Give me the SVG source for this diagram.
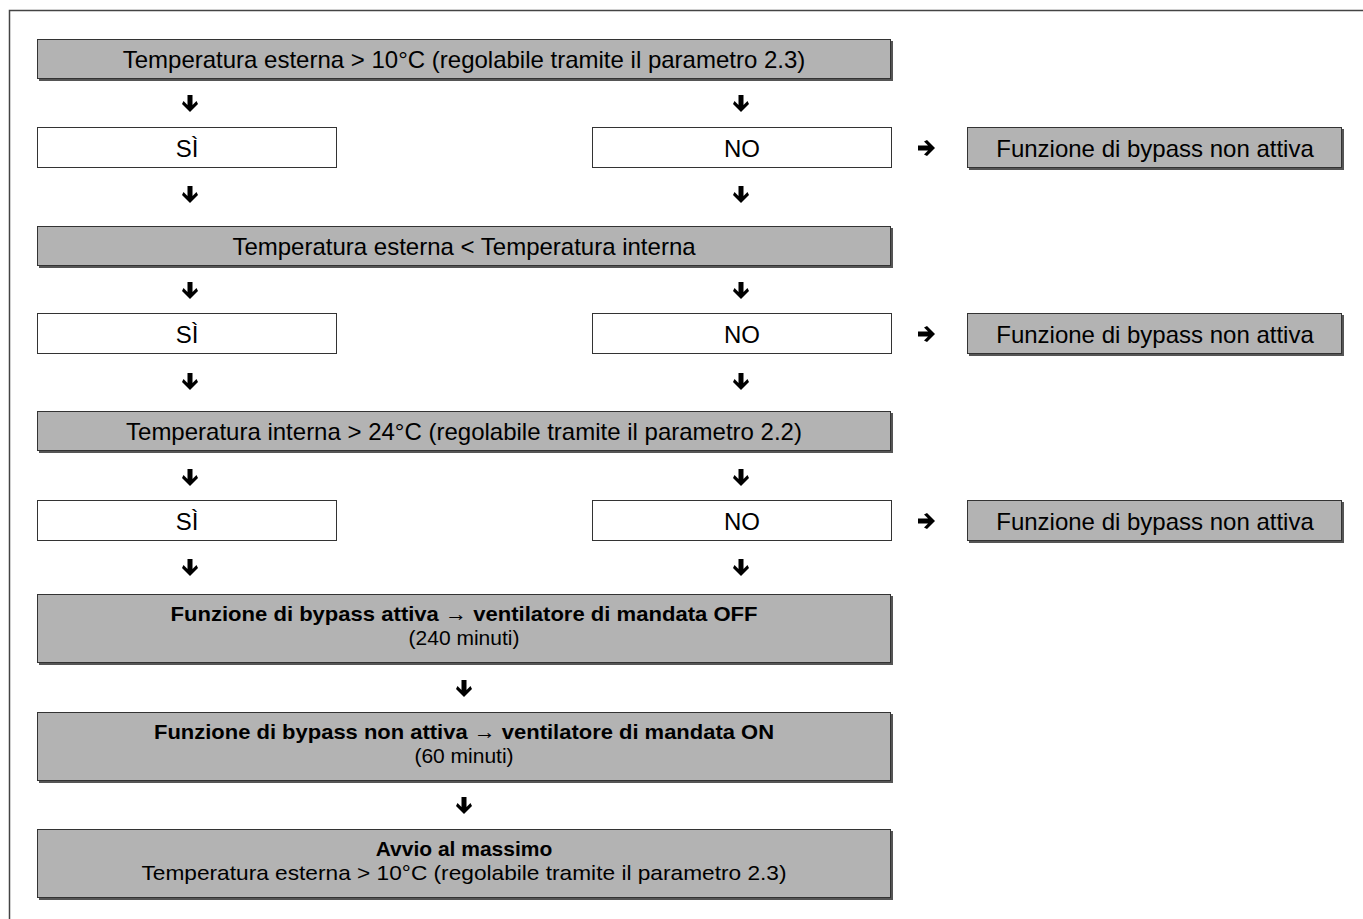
<svg xmlns="http://www.w3.org/2000/svg" width="1363" height="919" viewBox="0 0 1363 919">
<style>
text{font-family:"Liberation Sans",Arial,sans-serif;font-size:24px;fill:#000;text-anchor:middle}
.b{font-weight:bold}
.s{font-size:21px}
.g{fill:#b3b3b3;stroke:#333;stroke-width:1}
.w{fill:#fff;stroke:#333;stroke-width:1}
.sh{fill:#555}
.arr{fill:#000}
</style>
<defs>
<path id="ad" d="M-2.5,-9 H2.5 V1 L6.5,-3 L8,0 L0,8 L-8,0 L-6.5,-3 L-2.5,1 Z"/>
<path id="ar" d="M-9,-2.5 V2.5 H1 L-3,6.5 L0,8 L8,0 L0,-8 L-3,-6.5 L1,-2.5 Z"/>
</defs>
<rect width="1363" height="919" fill="#fff"/>
<path d="M9.5,919 V10.5 H1363" fill="none" stroke="#444" stroke-width="1.5"/>

<g id="n1"><rect class="sh" x="39" y="41" width="854" height="40"/><rect class="g" x="37.5" y="39.5" width="853" height="39"/><text x="464" y="68">Temperatura esterna &gt; 10°C (regolabile tramite il parametro 2.3)</text></g>
<g id="n2"><rect class="w" x="37.5" y="127.5" width="299" height="40"/><text x="187" y="157">SÌ</text></g>
<g id="n3"><rect class="w" x="592.5" y="127.5" width="299" height="40"/><text x="742" y="157">NO</text></g>
<g id="n4"><rect class="sh" x="969" y="129" width="375" height="41"/><rect class="g" x="967.5" y="127.5" width="374" height="40"/><text x="1155" y="157">Funzione di bypass non attiva</text></g>

<g id="n5"><rect class="sh" x="39" y="228" width="854" height="40"/><rect class="g" x="37.5" y="226.5" width="853" height="39"/><text x="464" y="255">Temperatura esterna &lt; Temperatura interna</text></g>
<g id="n6"><rect class="w" x="37.5" y="313.5" width="299" height="40"/><text x="187" y="343">SÌ</text></g>
<g id="n7"><rect class="w" x="592.5" y="313.5" width="299" height="40"/><text x="742" y="343">NO</text></g>
<g id="n8"><rect class="sh" x="969" y="315" width="375" height="41"/><rect class="g" x="967.5" y="313.5" width="374" height="40"/><text x="1155" y="343">Funzione di bypass non attiva</text></g>

<g id="n9"><rect class="sh" x="39" y="413" width="854" height="40"/><rect class="g" x="37.5" y="411.5" width="853" height="39"/><text x="464" y="440">Temperatura interna &gt; 24°C (regolabile tramite il parametro 2.2)</text></g>
<g id="n10"><rect class="w" x="37.5" y="500.5" width="299" height="40"/><text x="187" y="530">SÌ</text></g>
<g id="n11"><rect class="w" x="592.5" y="500.5" width="299" height="40"/><text x="742" y="530">NO</text></g>
<g id="n12"><rect class="sh" x="969" y="502" width="375" height="41"/><rect class="g" x="967.5" y="500.5" width="374" height="40"/><text x="1155" y="530">Funzione di bypass non attiva</text></g>

<g id="n13"><rect class="sh" x="39" y="596" width="854" height="69"/><rect class="g" x="37.5" y="594.5" width="853" height="68"/><text class="b s" x="464" y="621" textLength="587" lengthAdjust="spacingAndGlyphs">Funzione di bypass attiva → ventilatore di mandata OFF</text><text class="s" x="464" y="645">(240 minuti)</text></g>
<g id="n14"><rect class="sh" x="39" y="714" width="854" height="69"/><rect class="g" x="37.5" y="712.5" width="853" height="68"/><text class="b s" x="464" y="739" textLength="620" lengthAdjust="spacingAndGlyphs">Funzione di bypass non attiva → ventilatore di mandata ON</text><text class="s" x="464" y="763">(60 minuti)</text></g>
<g id="n15"><rect class="sh" x="39" y="831" width="854" height="69"/><rect class="g" x="37.5" y="829.5" width="853" height="68"/><text class="b s" x="464" y="856">Avvio al massimo</text><text class="s" x="464" y="880" textLength="645" lengthAdjust="spacingAndGlyphs">Temperatura esterna &gt; 10°C (regolabile tramite il parametro 2.3)</text></g>

<g id="connectors" class="arr">
<use href="#ad" x="190" y="104"/><use href="#ad" x="741" y="104"/>
<use href="#ad" x="190" y="195"/><use href="#ad" x="741" y="195"/>
<use href="#ar" x="927" y="148"/>
<use href="#ad" x="190" y="291"/><use href="#ad" x="741" y="291"/>
<use href="#ad" x="190" y="382"/><use href="#ad" x="741" y="382"/>
<use href="#ar" x="927" y="334"/>
<use href="#ad" x="190" y="478"/><use href="#ad" x="741" y="478"/>
<use href="#ad" x="190" y="568"/><use href="#ad" x="741" y="568"/>
<use href="#ar" x="927" y="521"/>
<use href="#ad" x="464" y="689"/>
<use href="#ad" x="464" y="806"/>
</g>
</svg>
